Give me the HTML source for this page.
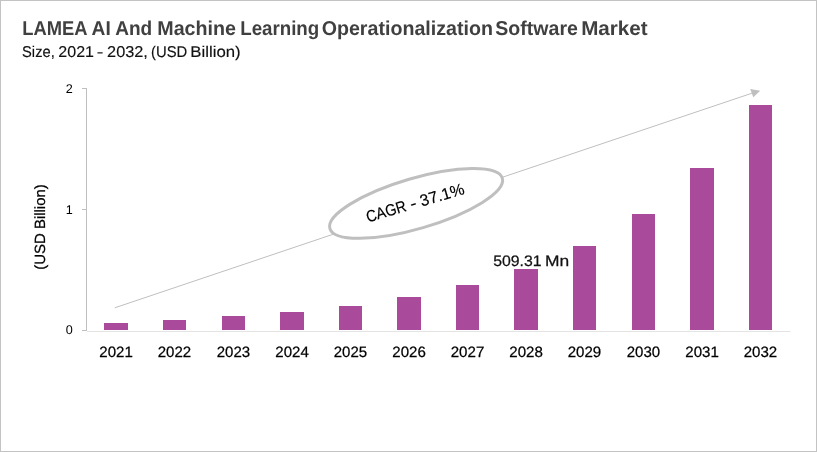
<!DOCTYPE html>
<html lang="en"><head><meta charset="utf-8"><title>LAMEA AI And Machine Learning Operationalization Software Market</title>
<style>
html,body{margin:0;padding:0;background:#fff;}
body{width:817px;height:452px;overflow:hidden;}
svg{display:block;font-family:"Liberation Sans",sans-serif;}
text{text-rendering:geometricPrecision;}
</style></head><body>
<svg width="817" height="452" viewBox="0 0 817 452">
<rect x="0" y="0" width="817" height="452" fill="#fff"/>
<rect x="0.5" y="0.5" width="816" height="451" fill="none" stroke="#c3c3c3" stroke-width="1"/>

<g font-weight="700" fill="#404040" font-size="20">
<text x="22.31" y="35" textLength="65.23" lengthAdjust="spacingAndGlyphs">LAMEA</text>
<text x="91.55" y="35" textLength="19.16" lengthAdjust="spacingAndGlyphs">AI</text>
<text x="115.24" y="35" textLength="37.0" lengthAdjust="spacingAndGlyphs">And</text>
<text x="157.3" y="35" textLength="78.69" lengthAdjust="spacingAndGlyphs">Machine</text>
<text x="240.23" y="35" textLength="78.98" lengthAdjust="spacingAndGlyphs">Learning</text>
<text x="321.69" y="35" textLength="171.27" lengthAdjust="spacingAndGlyphs">Operationalization</text>
<text x="495.29" y="35" textLength="82.59" lengthAdjust="spacingAndGlyphs">Software</text>
<text x="581.2" y="35" textLength="66.43" lengthAdjust="spacingAndGlyphs">Market</text>
</g>
<g fill="#111" stroke="#111" stroke-width="0.15" font-size="15.6">
<text x="22.07" y="57" textLength="32.68" lengthAdjust="spacingAndGlyphs">Size,</text>
<text x="58.34" y="57" textLength="35.62" lengthAdjust="spacingAndGlyphs">2021</text>
<text x="96.65" y="57" textLength="6.61" lengthAdjust="spacingAndGlyphs">-</text>
<text x="107.08" y="57" textLength="40.79" lengthAdjust="spacingAndGlyphs">2032,</text>
<text x="151.05" y="57" textLength="36.25" lengthAdjust="spacingAndGlyphs">(USD</text>
<text x="190.39" y="57" textLength="50.31" lengthAdjust="spacingAndGlyphs">Billion)</text>
</g>
<path d="M86.5 88.0V331.0 M82.0 88.5H86.5 M82.0 209.5H86.5 M82.0 330.5H86.5" stroke="#bfbfbf" stroke-width="1" fill="none"/>
<path d="M87.0 331.5H790.5" stroke="#e4e4e4" stroke-width="1" fill="none"/>
<g font-size="12.6" fill="#000" text-anchor="end">
<text x="72.8" y="93">2</text>
<text x="72.8" y="214">1</text>
<text x="72.8" y="334">0</text>
</g>
<text transform="translate(44.9 227.0) rotate(-90)" font-size="14.8" fill="#000" stroke="#000" stroke-width="0.25" text-anchor="middle" textLength="85.6" lengthAdjust="spacingAndGlyphs">(USD Billion)</text>
<path d="M114.8 307.8L752 93.2" stroke="#bfbfbf" stroke-width="1" fill="none"/>
<path d="M760.2 90.8L750.2 89.1L753.3 97.3Z" fill="#bfbfbf"/>
<g fill="#aa4a9b">
<rect x="104" y="323" width="24" height="7"/>
<rect x="163" y="320" width="23" height="10"/>
<rect x="222" y="316" width="23" height="14"/>
<rect x="280" y="312" width="24" height="18"/>
<rect x="339" y="306" width="23" height="24"/>
<rect x="397" y="297" width="24" height="33"/>
<rect x="456" y="285" width="23" height="45"/>
<rect x="514" y="269" width="24" height="61"/>
<rect x="573" y="246" width="23" height="84"/>
<rect x="632" y="214" width="23" height="116"/>
<rect x="690" y="168" width="24" height="162"/>
<rect x="749" y="105" width="23" height="225"/>
</g>
<g fill="#000" stroke="#000" stroke-width="0.25" font-size="15.0">
<text x="99.28" y="357" textLength="33.49" lengthAdjust="spacingAndGlyphs">2021</text>
<text x="157.7" y="357" textLength="33.51" lengthAdjust="spacingAndGlyphs">2022</text>
<text x="216.71" y="357" textLength="33.41" lengthAdjust="spacingAndGlyphs">2023</text>
<text x="275.28" y="357" textLength="33.5" lengthAdjust="spacingAndGlyphs">2024</text>
<text x="333.7" y="357" textLength="33.4" lengthAdjust="spacingAndGlyphs">2025</text>
<text x="392.28" y="357" textLength="33.5" lengthAdjust="spacingAndGlyphs">2026</text>
<text x="450.7" y="357" textLength="33.64" lengthAdjust="spacingAndGlyphs">2027</text>
<text x="509.28" y="357" textLength="33.54" lengthAdjust="spacingAndGlyphs">2028</text>
<text x="567.7" y="357" textLength="33.54" lengthAdjust="spacingAndGlyphs">2029</text>
<text x="626.71" y="357" textLength="33.39" lengthAdjust="spacingAndGlyphs">2030</text>
<text x="685.28" y="357" textLength="33.49" lengthAdjust="spacingAndGlyphs">2031</text>
<text x="743.7" y="357" textLength="33.51" lengthAdjust="spacingAndGlyphs">2032</text>
</g>
<g fill="#111" stroke="#111" stroke-width="0.25" font-size="15.2">
<text x="493.15" y="266" textLength="48.38" lengthAdjust="spacingAndGlyphs">509.31</text>
<text x="545.05" y="266" textLength="24.21" lengthAdjust="spacingAndGlyphs">Mn</text>
</g>
<g transform="translate(416.1 203.4) rotate(-16.3)">
<ellipse cx="0" cy="0" rx="89.8" ry="25.2" fill="#fff" stroke="#bfbfbf" stroke-width="3"/>
<g fill="#000" stroke="#000" stroke-width="0.15" font-size="16.2">
<text x="-51.56" y="4.7" textLength="41.2" lengthAdjust="spacingAndGlyphs">CAGR</text>
<text x="-6.1" y="4.7" textLength="6.38" lengthAdjust="spacingAndGlyphs">-</text>
<text x="4.6" y="4.7" textLength="45.46" lengthAdjust="spacingAndGlyphs">37.1%</text>
</g>
</g>
</svg></body></html>
